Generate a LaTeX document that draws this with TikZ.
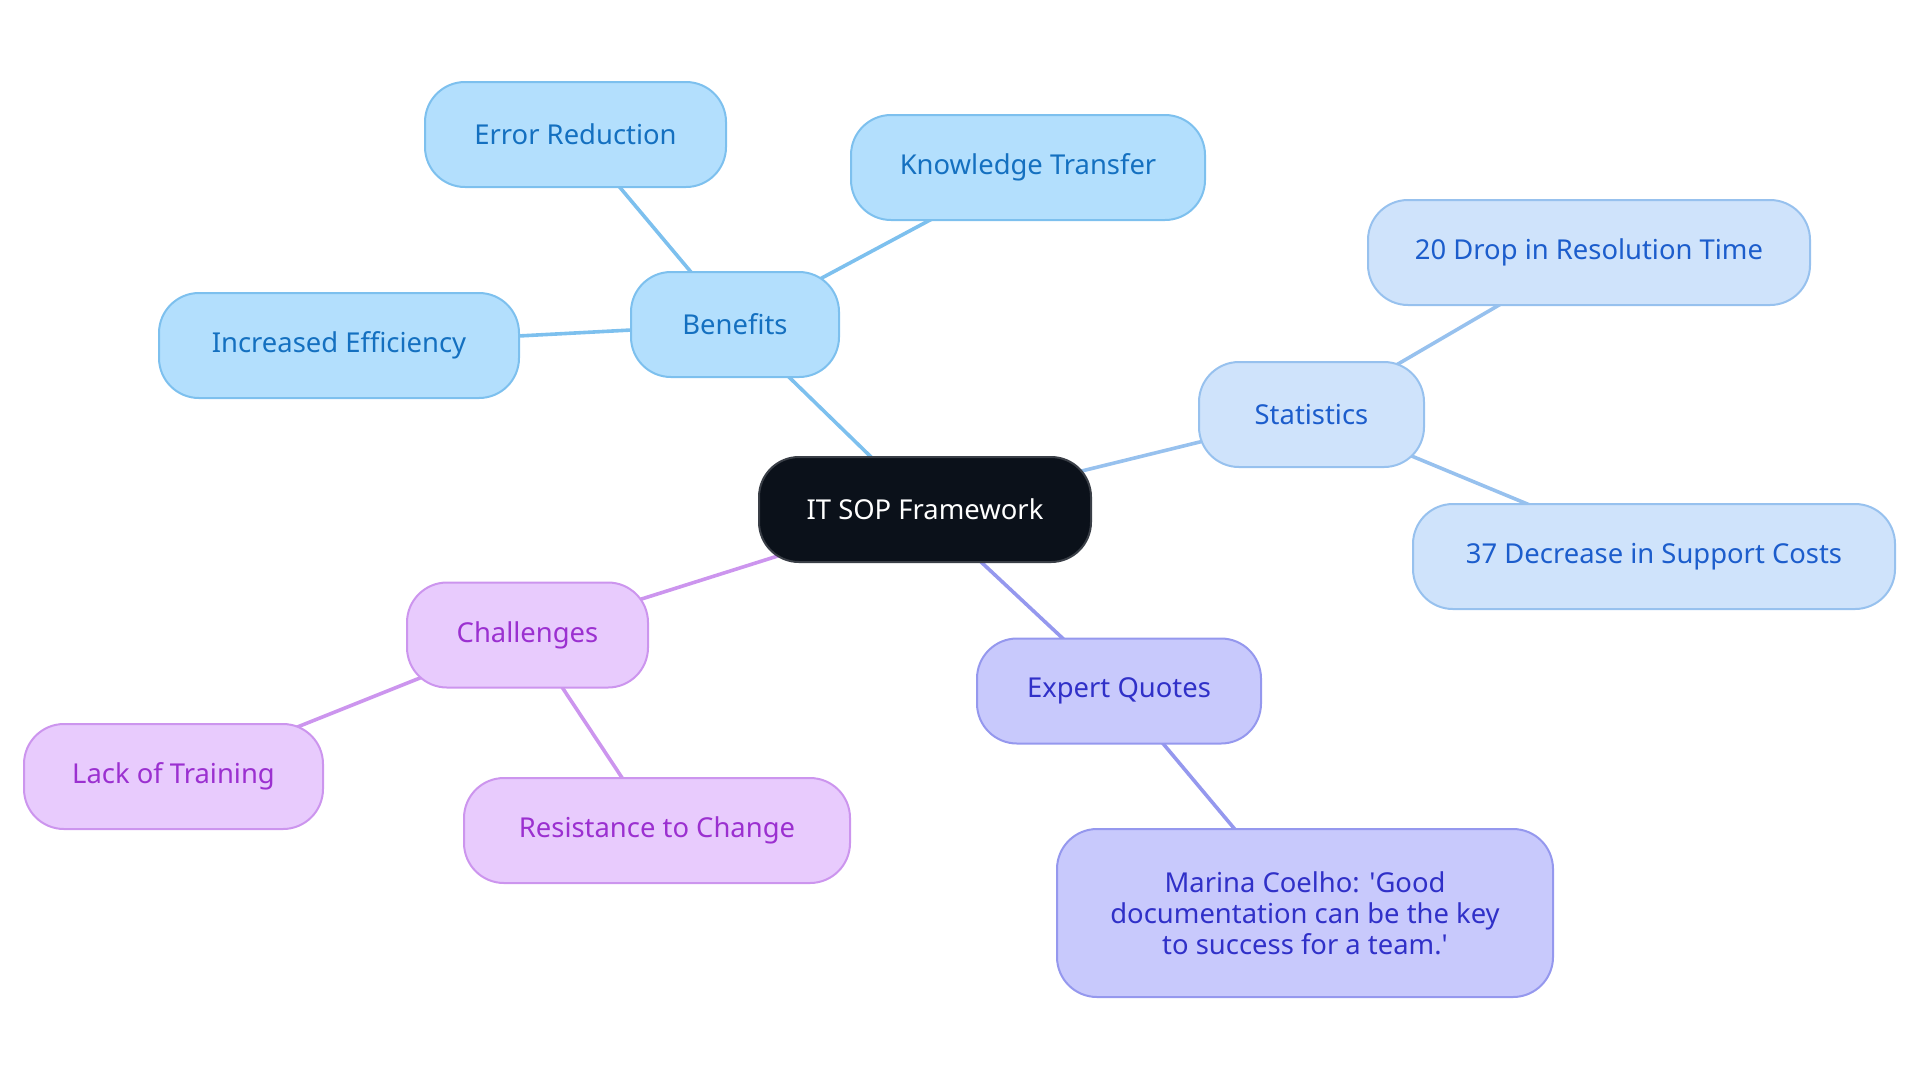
\documentclass[tikz,border=0pt]{standalone}
\usepackage{fontspec}
\setmainfont{Noto Sans}[Ligatures=TeXOff]
\usetikzlibrary{backgrounds}
\definecolor{rootfill}{HTML}{0B111A}
\definecolor{rootdraw}{HTML}{3A3F47}
\definecolor{bfill}{HTML}{B3DFFD}
\definecolor{bdraw}{HTML}{7DC0EE}
\definecolor{btext}{HTML}{1470C0}
\definecolor{sfill}{HTML}{CFE3FB}
\definecolor{sdraw}{HTML}{97C1EE}
\definecolor{stext}{HTML}{1C5DCC}
\definecolor{efill}{HTML}{C8C9FC}
\definecolor{edraw}{HTML}{9598EE}
\definecolor{etext}{HTML}{3030C8}
\definecolor{cfill}{HTML}{E8CBFD}
\definecolor{cdraw}{HTML}{CC95EE}
\definecolor{ctext}{HTML}{9B30D0}
\tikzset{
  box/.style={rectangle, rounded corners=20pt, line width=1pt, inner sep=0pt,
    minimum height=52.5pt, align=center, font=\fontsize{13.7pt}{15.5pt}\selectfont},
  rootbox/.style={box, fill=rootfill, draw=rootdraw, text=white},
  benbox/.style={box, fill=bfill, draw=bdraw, text=btext},
  stabox/.style={box, fill=sfill, draw=sdraw, text=stext},
  expbox/.style={box, fill=efill, draw=edraw, text=etext},
  chabox/.style={box, fill=cfill, draw=cdraw, text=ctext},
  link/.style={line width=1.8pt},
}
\begin{document}
\begin{tikzpicture}[x=0.5pt,y=-0.5pt]
\useasboundingbox (0,0) rectangle (1920,1083);
\node[rootbox, minimum width=166pt] (root) at (925,509.5) {IT SOP Framework};
\node[benbox, minimum width=104pt] (ben) at (735,324.5) {Benefits};
\node[benbox, minimum width=150.5pt] (err) at (575.5,134.5) {Error Reduction};
\node[benbox, minimum width=177pt] (kno) at (1028,167.5) {Knowledge Transfer};
\node[benbox, minimum width=180pt] (eff) at (339,345.5) {Increased Efficiency};
\node[stabox, minimum width=112.5pt] (sta) at (1311.5,414.5) {Statistics};
\node[stabox, minimum width=221pt] (s20) at (1589,252.5) {20 Drop in Resolution Time};
\node[stabox, minimum width=241pt] (s37) at (1654,556.5) {37 Decrease in Support Costs};
\node[expbox, minimum width=142pt] (exp) at (1119,691) {Expert Quotes};
\node[expbox, minimum width=248pt, minimum height=84pt] (mar) at (1305,913) {Marina Coelho: 'Good\\documentation can be the key\\to success for a team.'};
\node[chabox, minimum width=120.5pt] (cha) at (527.5,635) {Challenges};
\node[chabox, minimum width=149.5pt] (lac) at (173.5,776.5) {Lack of Training};
\node[chabox, minimum width=193pt] (res) at (657,830.5) {Resistance to Change};
\begin{scope}[on background layer]
\draw[link, bdraw] (root.center) -- (ben.center);
\draw[link, bdraw] (ben.center) -- (err.center);
\draw[link, bdraw] (ben.center) -- (kno.center);
\draw[link, bdraw] (ben.center) -- (eff.center);
\draw[link, sdraw] (root.center) -- (sta.center);
\draw[link, sdraw] (sta.center) -- (s20.center);
\draw[link, sdraw] (sta.center) -- (s37.center);
\draw[link, edraw] (root.center) -- (exp.center);
\draw[link, edraw] (exp.center) -- (mar.center);
\draw[link, cdraw] (root.center) -- (cha.center);
\draw[link, cdraw] (cha.center) -- (lac.center);
\draw[link, cdraw] (cha.center) -- (res.center);
\end{scope}
\end{tikzpicture}
\end{document}
